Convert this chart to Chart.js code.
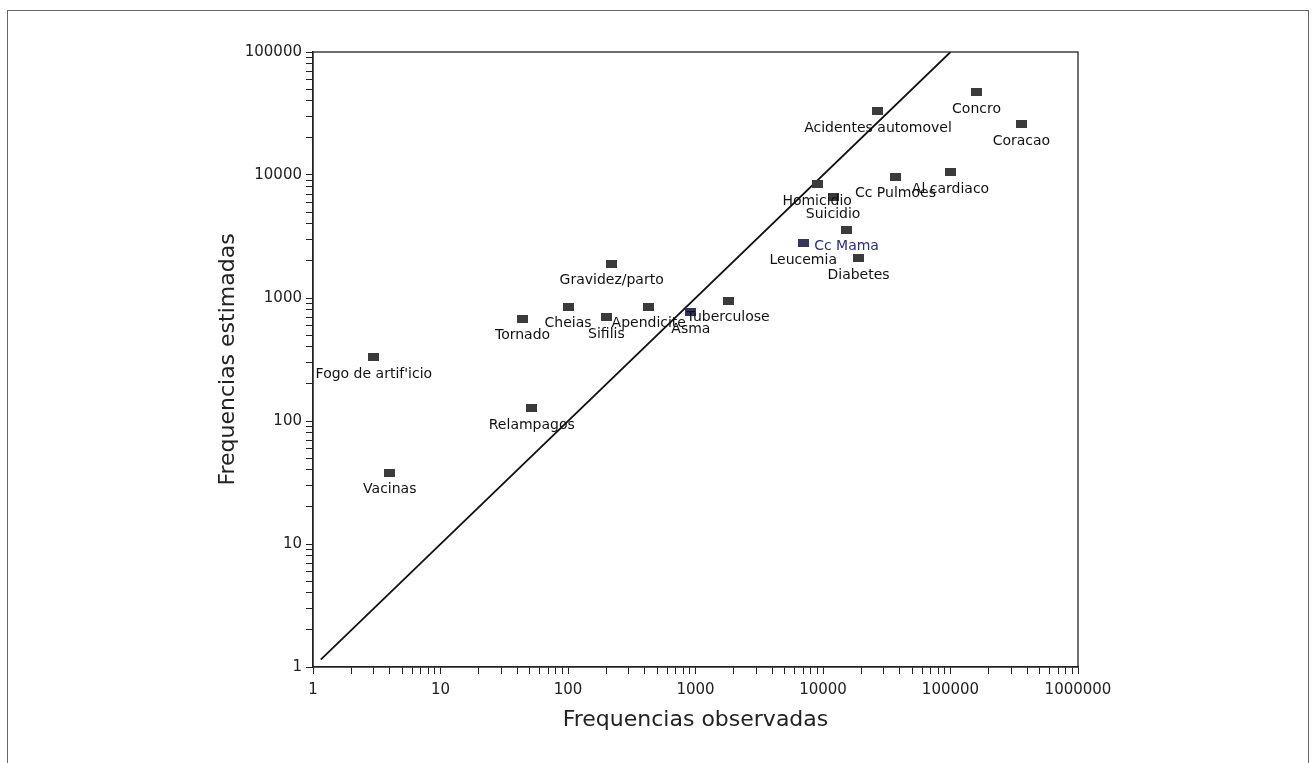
<!DOCTYPE html>
<html>
<head>
<meta charset="utf-8">
<script src="https://cdn.jsdelivr.net/npm/chart.js@4"></script>
<style>
  html, body { margin: 0; padding: 0; background: #fff; }
  #wrap { position: relative; width: 1314px; height: 763px; }
  #frame { position: absolute; left: 7px; top: 10px; width: 1302px; height: 760px; border: 1px solid #666; box-sizing: border-box; pointer-events: none; }
</style>
</head>
<body>
<div id="wrap">
  <canvas id="c" width="1314" height="763"></canvas>
  <div id="frame"></div>
</div>
<script>
// ---- data ----
const categories = ["Fogo de artif'icio", "Vacinas", "Relampagos", "Tornado", "Cheias", "Gravidez/parto", "Sifilis", "Apendicite", "Asma", "Tuberculose", "Leucemia", "Homicidio", "Suicidio", "Cc Mama", "Diabetes", "Acidentes automovel", "Cc Pulmoes", "Al cardiaco", "Concro", "Coracao"];
const observed  = [3, 4, 52, 44, 100, 220, 200, 430, 920, 1800, 7000, 9000, 12000, 15300, 19000, 27000, 37000, 100000, 160000, 360000];
const estimated = [330, 38, 127, 680, 850, 1900, 700, 850, 770, 950, 2800, 8400, 6600, 3600, 2100, 33000, 9700, 10600, 47000, 26000];
const xTickLabels = [1, 10, 100, 1000, 10000, 100000, 1000000];
const yTickLabels = [1, 10, 100, 1000, 10000, 100000];
const refLineX = [1.15, 100000];
const refLineY = [1.15, 100000];
const xTitle = "Frequencias observadas";
const yTitle = "Frequencias estimadas";

const FONT = "'DejaVu Sans', sans-serif";
const INK = '#222';

// rectangular marker
function makeMarker(color) {
  const c = document.createElement('canvas');
  c.width = 11; c.height = 8;
  const g = c.getContext('2d');
  g.fillStyle = color; g.fillRect(0, 0, 11, 8);
  return c;
}
const markerDark = makeMarker('#3b3b3b');
const markerBlue = makeMarker('#34345c');
const blueSet = new Set(["Asma", "Leucemia"]);

const points = categories.map((n, i) => ({ x: observed[i], y: estimated[i], name: n }));

function logTicks(min, max) {
  const out = [];
  for (let e = Math.round(Math.log10(min)); Math.pow(10, e) <= max; e++) {
    for (let m = 1; m <= 9; m++) {
      const v = m * Math.pow(10, e);
      if (v >= min && v <= max * 1.0000001) out.push({ value: v });
    }
  }
  return out;
}

const boxPlugin = {
  id: 'box',
  afterDatasetsDraw(chart) {
    const { ctx, chartArea: a } = chart;
    ctx.save();
    ctx.strokeStyle = INK; ctx.lineWidth = 1.3;
    ctx.strokeRect(a.left, a.top, a.right - a.left, a.bottom - a.top);
    ctx.restore();
  }
};

const labelPlugin = {
  id: 'ptLabels',
  afterDatasetsDraw(chart) {
    const { ctx } = chart;
    const xs = chart.scales.x, ys = chart.scales.y;
    ctx.save();
    ctx.font = "14px " + FONT;
    ctx.textAlign = 'center';
    ctx.textBaseline = 'middle';
    points.forEach(p => {
      const px = xs.getPixelForValue(p.x);
      const py = ys.getPixelForValue(p.y);
      ctx.fillStyle = p.name === 'Cc Mama' ? '#2a2a80' : '#111';
      ctx.fillText(p.name, px, py + 17);
    });
    ctx.restore();
  }
};

new Chart(document.getElementById('c'), {
  data: {
    datasets: [
      {
        type: 'scatter',
        data: points,
        pointStyle: points.map(p => blueSet.has(p.name) ? markerBlue : markerDark),
        pointRadius: 5,
        pointHoverRadius: 5
      },
      {
        type: 'line',
        data: refLineX.map((x, i) => ({ x, y: refLineY[i] })),
        borderColor: '#111',
        borderWidth: 1.8,
        pointRadius: 0,
        fill: false
      }
    ]
  },
  options: {
    responsive: false,
    animation: false,
    events: [],
    layout: { padding: { left: 211, right: 236, top: 52, bottom: 26 } },
    plugins: { legend: { display: false }, tooltip: { enabled: false } },
    scales: {
      x: {
        type: 'logarithmic',
        position: 'bottom',
        min: 1, max: 1000000,
        afterBuildTicks: s => { s.ticks = logTicks(1, 1000000); },
        afterFit: s => { s.height = 70; },
        ticks: {
          autoSkip: false, maxRotation: 0, padding: 7,
          color: INK, font: { family: FONT, size: 15 },
          callback: v => xTickLabels.includes(v) ? String(v) : ''
        },
        grid: { display: true, drawOnChartArea: false, drawTicks: true, tickLength: 7, tickColor: INK, tickWidth: 1 },
        border: { display: true, color: INK, width: 1.3 },
        title: { display: true, text: xTitle, color: INK, font: { family: FONT, size: 22 } }
      },
      y: {
        type: 'logarithmic',
        position: 'left',
        min: 1, max: 100000,
        afterBuildTicks: s => { s.ticks = logTicks(1, 100000); },
        afterFit: s => { s.width = 102; },
        ticks: {
          autoSkip: false, padding: 4,
          color: INK, font: { family: FONT, size: 15 },
          callback: v => yTickLabels.includes(v) ? String(v) : ''
        },
        grid: { display: true, drawOnChartArea: false, drawTicks: true, tickLength: 7, tickColor: INK, tickWidth: 1 },
        border: { display: true, color: INK, width: 1.3 },
        title: { display: true, text: yTitle, color: INK, font: { family: FONT, size: 22 } }
      }
    }
  },
  plugins: [boxPlugin, labelPlugin]
});
</script>
</body>
</html>
